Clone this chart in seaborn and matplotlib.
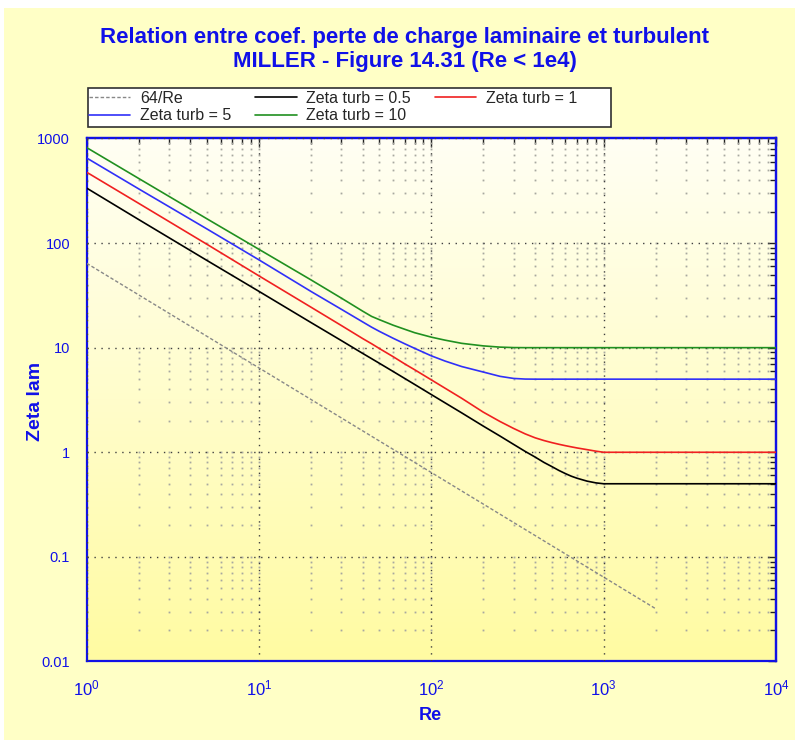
import numpy as np
import pandas as pd
import matplotlib
matplotlib.use("Agg")
import matplotlib.pyplot as plt
import seaborn as sns
from matplotlib.colors import LinearSegmentedColormap
from matplotlib.patches import Rectangle
from matplotlib.lines import Line2D
from matplotlib.ticker import FixedLocator, LogLocator, NullFormatter

# data
re_64 = [1, 2000]
zeta_64 = [64, 0.032]

re_pts = [1, 2, 5, 10, 20, 30, 40, 45, 50, 60, 70, 80, 100, 120, 150, 200, 250, 300,
          350, 400, 450, 500, 550, 600, 650, 700, 800, 900, 1000, 10000]
zeta_05 = [335, 168, 68, 34.5, 17.4, 11.7, 8.8, 7.85, 7.08, 5.92, 5.08, 4.45, 3.56, 2.97,
           2.38, 1.78, 1.43, 1.19, 1.02, 0.9, 0.8, 0.73, 0.67, 0.625, 0.59, 0.565, 0.53,
           0.51, 0.5, 0.5]
zeta_1 = [475, 240, 97, 48.5, 24.4, 16.3, 12.2, 10.9, 9.8, 8.2, 7.0, 6.15, 4.92, 4.1,
          3.28, 2.42, 1.97, 1.69, 1.5, 1.375, 1.295, 1.237, 1.192, 1.156, 1.126, 1.1, 1.06,
          1.025, 1.0, 1.0]
zeta_5 = [650, 330, 136, 69, 34.5, 23.3, 17.6, 15.7, 14.3, 12.3, 10.9, 9.85, 8.35, 7.45,
          6.6, 5.85, 5.32, 5.08, 5.01, 5.0, 5.0, 5.0, 5.0, 5.0, 5.0, 5.0, 5.0, 5.0, 5.0, 5.0]
zeta_10 = [817, 415, 170, 87, 44.5, 29.8, 22.3, 19.9, 18.5, 16.4, 15.0, 13.9, 12.6, 11.8,
           11.0, 10.4, 10.12, 10.02, 10.0, 10.0, 10.0, 10.0, 10.0, 10.0, 10.0, 10.0, 10.0,
           10.0, 10.0, 10.0]

yticks = [0.01, 0.1, 1, 10, 100, 1000]
ytick_labels = ["0.01", "0.1", "1", "10", "100", "1000"]
xticks = [1, 10, 100, 1000, 10000]
xtick_labels = [r"$10^{0}$", r"$10^{1}$", r"$10^{2}$", r"$10^{3}$", r"$10^{4}$"]

blue = "#1010E8"
sns.set_theme(style="white")
plt.rcParams["font.family"] = ["Liberation Sans", "DejaVu Sans"]
plt.rcParams["mathtext.fontset"] = "custom"
plt.rcParams["mathtext.rm"] = "Liberation Sans"
plt.rcParams["mathtext.it"] = "Liberation Sans:italic"

fig = plt.figure(figsize=(7.95, 7.4), dpi=100, facecolor="white")
fig.patches.append(Rectangle((4 / 795, 0), 791 / 795, 732 / 740, transform=fig.transFigure,
                             facecolor="#FFFFC6", edgecolor="none", zorder=-10))
ax = fig.add_axes([0.1091, 0.1061, 0.8670, 0.7068])

# gradient background of the plot area
cmap = LinearSegmentedColormap.from_list("bg", ["#FFFBA2", "#FFFFF4"])
grad = np.linspace(0, 1, 256).reshape(-1, 1)
ax.imshow(grad, extent=[0, 1, 0, 1], transform=ax.transAxes, aspect="auto",
          cmap=cmap, origin="lower", zorder=0)

series = [
    ("Zeta turb = 0.5", zeta_05, "#000000"),
    ("Zeta turb = 1", zeta_1, "#F02020"),
    ("Zeta turb = 5", zeta_5, "#3030F8"),
    ("Zeta turb = 10", zeta_10, "#209020"),
]

df64 = pd.DataFrame({"Re": re_64, "zeta": zeta_64})
sns.lineplot(data=df64, x="Re", y="zeta", ax=ax, color="#888888", lw=1.0,
             linestyle=(0, (2.5, 1.5)), estimator=None, sort=False, zorder=3)
for name, vals, col in series:
    d = pd.DataFrame({"Re": re_pts, "zeta": vals})
    sns.lineplot(data=d, x="Re", y="zeta", ax=ax, color=col, lw=1.2,
                 estimator=None, sort=False, zorder=4)

ax.set_xscale("log")
ax.set_yscale("log")
ax.xaxis.set_major_locator(FixedLocator(xticks))
ax.set_xticklabels(xtick_labels)
ax.yaxis.set_major_locator(FixedLocator(yticks))
ax.set_yticklabels(ytick_labels)
ax.xaxis.set_minor_locator(LogLocator(base=10, subs=range(2, 10)))
ax.yaxis.set_minor_locator(LogLocator(base=10, subs=range(2, 10)))
ax.xaxis.set_minor_formatter(NullFormatter())
ax.yaxis.set_minor_formatter(NullFormatter())

# major grid: dotted lines; minor grid: dots at the crossings only
ax.grid(which="major", color="#404040", linestyle=(0, (1, 4)), linewidth=1.0, zorder=1)
gx = [m * 10.0 ** e for e in range(0, 4) for m in range(1, 10)] + [10000]
gy = [m * 10.0 ** e for e in range(-2, 3) for m in range(1, 10)] + [1000]
GX, GY = np.meshgrid(gx, gy)
ax.plot(GX.ravel(), GY.ravel(), ls="none", marker="s", ms=1.3, mew=0,
        color="#A8A8A0", zorder=1)
ax.set_xlim(1, 10000)
ax.set_ylim(0.01, 1000)
ax.set_axisbelow(False)

for s in ax.spines.values():
    s.set_color(blue)
    s.set_linewidth(1.6)
    s.set_visible(True)

ax.tick_params(which="major", direction="inout", length=12, width=1.0, color="#202020",
               labelcolor=blue, pad=6)
ax.tick_params(which="minor", direction="inout", length=7, width=1.0, color="#202020")
ax.tick_params(axis="x", labelsize=12, pad=6)
ax.tick_params(axis="y", labelsize=10.5)

# inward ticks on top and right
top = ax.secondary_xaxis("top")
right = ax.secondary_yaxis("right")
for sec in (top, right):
    sec.tick_params(which="major", direction="in", length=6, width=1.0, color="#202020")
    sec.tick_params(which="minor", direction="in", length=4, width=1.0, color="#202020")
    for s in sec.spines.values():
        s.set_color(blue)
        s.set_linewidth(1.6)
top.xaxis.set_major_locator(FixedLocator(xticks))
top.xaxis.set_minor_locator(LogLocator(base=10, subs=range(2, 10)))
top.xaxis.set_major_formatter(NullFormatter())
top.xaxis.set_minor_formatter(NullFormatter())
right.yaxis.set_major_locator(FixedLocator(yticks))
right.yaxis.set_minor_locator(LogLocator(base=10, subs=range(2, 10)))
right.yaxis.set_major_formatter(NullFormatter())
right.yaxis.set_minor_formatter(NullFormatter())

ax.set_xlabel("")
ax.set_ylabel("")
fig.text(430 / 795, 1 - 716 / 740, "Re", color=blue, fontsize=13, fontweight="bold",
         ha="center", va="center")
fig.text(35 / 795, 1 - 401 / 740, "Zeta lam", color=blue, fontsize=14, fontweight="bold",
         ha="center", va="center", rotation=90)

fig.text(405 / 795, 1 - 37 / 740, "Relation entre coef. perte de charge laminaire et turbulent",
         color=blue, fontsize=16, fontweight="bold", ha="center", va="center")
fig.text(405 / 795, 1 - 62 / 740, "MILLER - Figure 14.31 (Re < 1e4)",
         color=blue, fontsize=16, fontweight="bold", ha="center", va="center")

# legend, row-major order like the original, box drawn separately
fig.patches.append(Rectangle((88 / 795, 1 - 127 / 740), 523 / 795, 39 / 740,
                             transform=fig.transFigure, facecolor="white",
                             edgecolor="#303030", lw=1.2, zorder=5))
h64 = Line2D([], [], color="#888888", lw=1.0, linestyle=(0, (2.5, 1.5)))
hs = [Line2D([], [], color=c, lw=1.2) for _, _, c in series]
handles = [h64, hs[2], hs[0], hs[3], hs[1]]
labels = ["64/Re", "Zeta turb = 5", "Zeta turb = 0.5", "Zeta turb = 10", "Zeta turb = 1"]
leg = fig.legend(handles, labels, ncol=3, loc="upper left",
                 bbox_to_anchor=(88 / 795, 1 - 90 / 740), frameon=False,
                 fontsize=11.5, handlelength=2.6, handletextpad=0.6, borderpad=0.05,
                 labelspacing=0.15, columnspacing=1.5, borderaxespad=0)
leg.set_zorder(6)

fig.savefig("out.png", dpi=100, facecolor=fig.get_facecolor())
